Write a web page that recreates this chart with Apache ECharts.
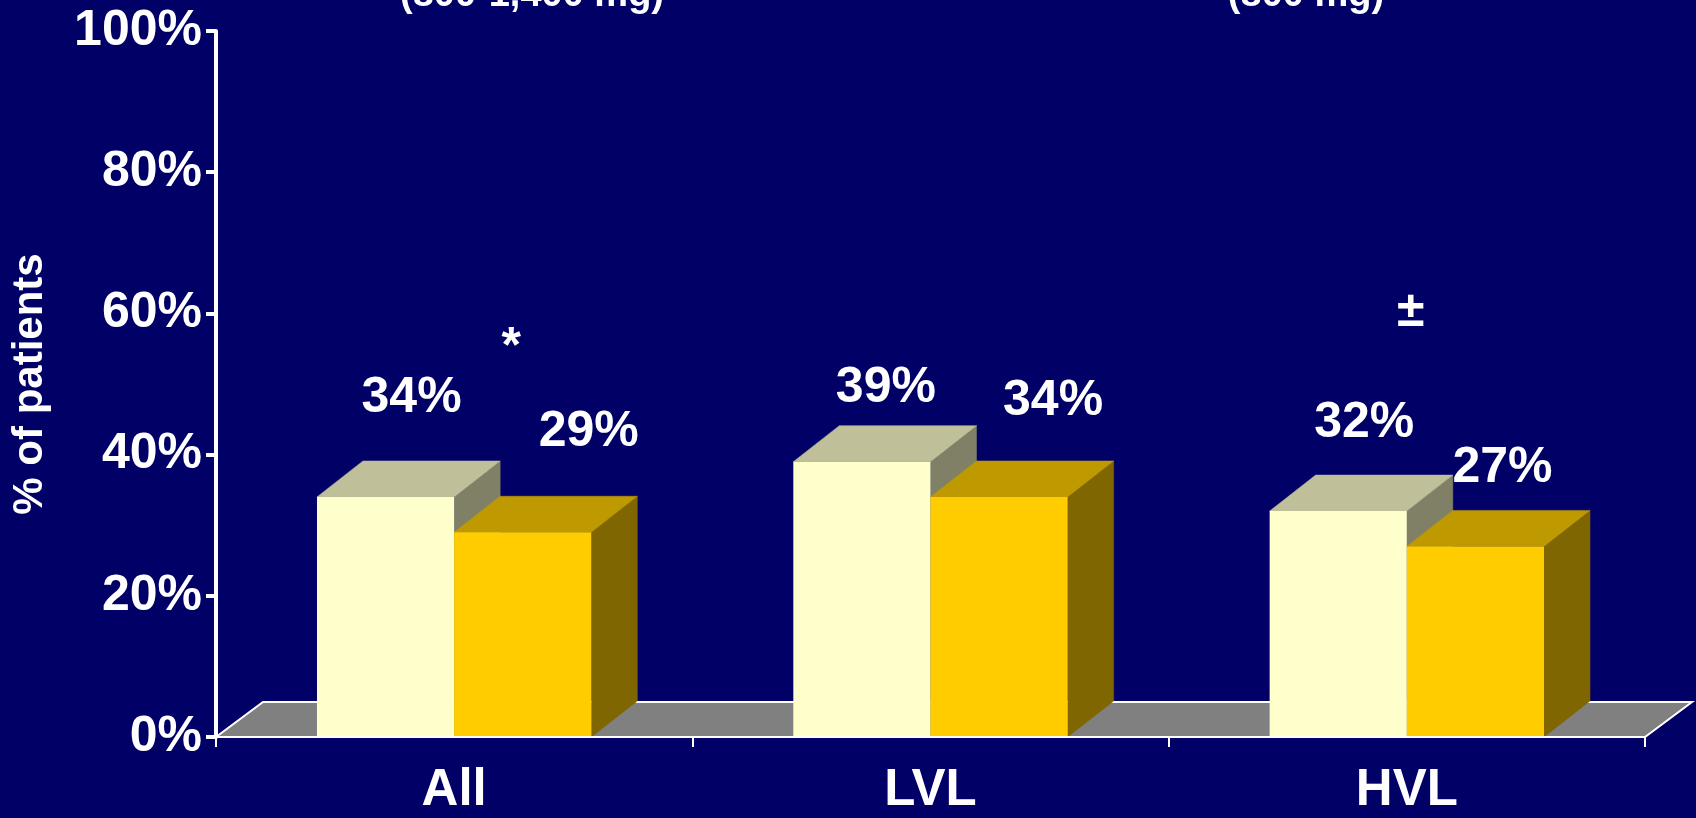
<!DOCTYPE html>
<html>
<head>
<meta charset="utf-8">
<script src="https://cdn.jsdelivr.net/npm/echarts@6/dist/echarts.min.js"></script>
<style>
html,body{margin:0;padding:0;background:#000066;}
#chart{width:1696px;height:818px;}
</style>
</head>
<body>
<div id="chart"></div>
<script>
// ---- data ----
const categories = ['All', 'LVL', 'HVL'];
const weightBased = [34, 39, 32];   // light bars
const flatDose = [29, 34, 27];      // yellow bars
const seriesNames = ['(800-1,400 mg)', '(800 mg)'];
const significance = ['*', '', '\u00B1'];
const yAxisName = '% of patients';

// ---- layout / style ----
const FONT = 'Arial, "Liberation Sans", sans-serif';
const BAR_FRAC = 0.288;
const DX = 46, DY = -36;          // bar depth
const FDX = 47, FDY = -35;        // floor depth
const palettes = [
  {front: '#FFFFCC', top: '#BFBF99', side: '#808066'},
  {front: '#FFCC00', top: '#BF9900', side: '#806600'}
];
// label centre offsets from the bar's front-top centre (px)
const labelShift = [
  [[26, -101], [24, -75], [26, -90]],
  [[66, -102], [54, -98], [27, -80]]
];
// significance marks: [x offset from category centre (px), y value]
const markPos = [[57, 56.9], null, [4, 60.1]];

function makeBarRenderer(sIdx) {
  const pal = palettes[sIdx];
  return function (params, api) {
    const ci = api.value(0), v = api.value(1);
    const p0 = api.coord([ci, 0]);
    const p1 = api.coord([ci, v]);
    const band = api.size([1, 0])[0];
    const w = band * BAR_FRAC;
    const x0 = sIdx === 0 ? p0[0] - w : p0[0];
    const x1 = x0 + w, yb = p0[1], yt = p1[1];
    const sh = labelShift[sIdx][params.dataIndex];
    return {
      type: 'group',
      children: [
        {type: 'polygon', shape: {points: [[x1, yt], [x1 + DX, yt + DY], [x1 + DX, yb + DY], [x1, yb]]},
          style: {fill: pal.side, stroke: pal.side, lineWidth: 0.5}},
        {type: 'polygon', shape: {points: [[x0, yt], [x1, yt], [x1 + DX, yt + DY], [x0 + DX, yt + DY]]},
          style: {fill: pal.top, stroke: pal.top, lineWidth: 0.5}},
        {type: 'rect', shape: {x: x0, y: yt, width: w, height: yb - yt},
          style: {fill: pal.front}},
        {type: 'text', x: (x0 + x1) / 2 + sh[0], y: yt + sh[1] + 2,
          style: {text: v + '%', fill: '#FFFFFF', font: 'bold 50px ' + FONT,
            align: 'center', verticalAlign: 'middle'}}
      ]
    };
  };
}

function renderFloor(params, api) {
  const cs = params.coordSys;
  const xl = cs.x, xr = cs.x + cs.width, yf = cs.y + cs.height;
  return {
    type: 'polygon',
    shape: {points: [[xl, yf], [xr, yf], [xr + FDX, yf + FDY], [xl + FDX, yf + FDY]]},
    style: {fill: '#808080', stroke: '#FFFFFF', lineWidth: 2}
  };
}

function renderMarks(params, api) {
  const ci = api.value(0);
  const pos = markPos[ci];
  const txt = significance[ci];
  if (!pos || !txt) return null;
  const c = api.coord([ci, pos[1]]);
  const isStar = txt === '*';
  return {
    type: 'text', x: c[0] + pos[0], y: c[1] + (isStar ? 13 : 0),
    style: {text: txt, fill: '#FFFFFF', font: 'bold 50px ' + FONT,
      align: 'center', verticalAlign: 'middle'}
  };
}

const chart = echarts.init(document.getElementById('chart'), null, {renderer: 'canvas'});
chart.setOption({
  backgroundColor: '#000066',
  animation: false,
  grid: {left: 216, right: 51, top: 31, bottom: 81, containLabel: false, outerBoundsMode: 'none'},
  graphic: [
    {type: 'text', x: 532, y: -4, style: {text: seriesNames[0], fill: '#FFFFFF',
      font: 'bold 38px ' + FONT, align: 'center', verticalAlign: 'middle'}},
    {type: 'text', x: 1306, y: -4, style: {text: seriesNames[1], fill: '#FFFFFF',
      font: 'bold 38px ' + FONT, align: 'center', verticalAlign: 'middle'}}
  ],
  xAxis: {
    type: 'category',
    data: categories,
    z: 5,
    axisLine: {show: true, lineStyle: {color: '#FFFFFF', width: 2}},
    axisTick: {show: true, length: 10, lineStyle: {color: '#FFFFFF', width: 2}},
    axisLabel: {color: '#FFFFFF', fontSize: 51, fontWeight: 'bold', fontFamily: FONT, margin: 28},
    splitLine: {show: false}
  },
  yAxis: {
    type: 'value',
    min: 0, max: 100, interval: 20,
    z: 5,
    name: yAxisName,
    nameLocation: 'middle',
    nameRotate: 90,
    nameGap: 165,
    nameTextStyle: {color: '#FFFFFF', fontSize: 42, fontWeight: 'bold', fontFamily: FONT},
    axisLine: {show: true, lineStyle: {color: '#FFFFFF', width: 4}},
    axisTick: {show: true, length: 10, lineStyle: {color: '#FFFFFF', width: 4}},
    axisLabel: {color: '#FFFFFF', fontSize: 50, fontWeight: 'bold', fontFamily: FONT,
      margin: 14, formatter: '{value}%'},
    splitLine: {show: false}
  },
  series: [
    {type: 'custom', name: 'floor', z: 1, renderItem: renderFloor, data: [[0, 0]],
      encode: {x: 0, y: 1}, silent: true},
    {type: 'custom', name: seriesNames[0], z: 2, renderItem: makeBarRenderer(0),
      data: categories.map((c, i) => [i, weightBased[i]]), encode: {x: 0, y: 1}},
    {type: 'custom', name: seriesNames[1], z: 3, renderItem: makeBarRenderer(1),
      data: categories.map((c, i) => [i, flatDose[i]]), encode: {x: 0, y: 1}},
    {type: 'custom', name: 'significance', z: 4, renderItem: renderMarks,
      data: categories.map((c, i) => [i, 0]), encode: {x: 0, y: 1}, silent: true}
  ]
});
</script>
</body>
</html>
